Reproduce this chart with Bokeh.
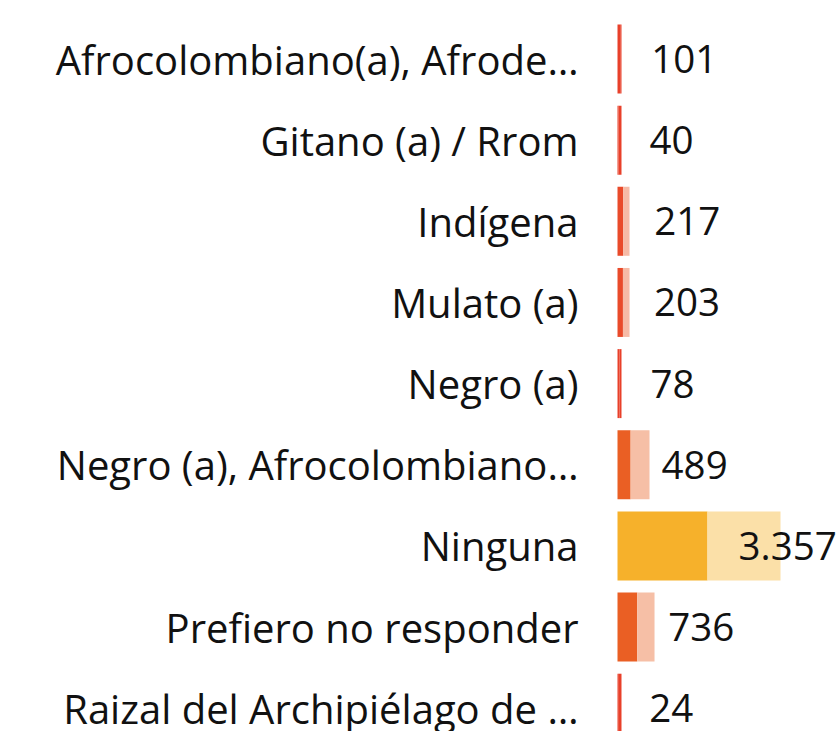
from bokeh.plotting import figure
from bokeh.models import ColumnDataSource, Range1d
from bokeh.core.properties import value
from bokeh.embed import file_html
from bokeh.resources import INLINE

categorias = [
    "Afrocolombiano(a), Afrode…",
    "Gitano (a) / Rrom",
    "Indígena",
    "Mulato (a)",
    "Negro (a)",
    "Negro (a), Afrocolombiano…",
    "Ninguna",
    "Prefiero no responder",
    "Raizal del Archipiélago de …",
]
valores = [101, 40, 217, 203, 78, 489, 3357, 736, 24]
etiquetas = ["101", "40", "217", "203", "78", "489", "3.357", "736", "24"]
complemento = [48, 109, 231, 246, 71, 705, 2723, 645, 125]
color_principal = ["#E8402A", "#E8402A", "#E94A2A", "#E94A2A", "#E8402A",
                   "#EA5F24", "#F6B12B", "#EA5F24", "#E8402A"]
color_complemento = ["#E8402A", "#E8402A", "#F6BAA6", "#F6BAA6", "#E8402A",
                     "#F6BFA6", "#FBE0A8", "#F6BFA6", "#E8402A"]

posicion = list(range(len(categorias)))
total = [v + c for v, c in zip(valores, complemento)]

src = ColumnDataSource(dict(
    y=posicion, cat=categorias, valor=valores, total=total, etiqueta=etiquetas,
    c1=color_principal, c2=color_complemento,
))

W, H = 838, 731
px_per_unit = 90 / 3357
zero_px = 617
x_start = -zero_px / px_per_unit
x_end = (W - zero_px) / px_per_unit
row_px = 81.15
top = -58.5 / row_px
bottom = top + H / row_px

p = figure(width=W, height=H, output_backend="svg", toolbar_location=None,
           x_range=Range1d(x_start, x_end), y_range=Range1d(bottom, top),
           min_border=0)
p.axis.visible = False
p.grid.visible = False
p.outline_line_color = None
p.background_fill_color = "white"

p.hbar(y="y", left=0, right="valor", height=0.85, fill_color="c1",
       line_color=None, source=src)
p.hbar(y="y", left="valor", right="total", height=0.85, fill_color="c2",
       line_color=None, source=src)

p.text(x=0, y="y", text="cat", x_offset=-39, text_align="right",
       text_baseline="middle", text_font=value("Open Sans"),
       text_font_size="40px", text_color="#111111", source=src)
p.text(x="valor", y="y", text="etiqueta", x_offset=31, text_align="left",
       text_baseline="middle", text_font=value("Open Sans"),
       text_font_size="38.5px", text_color="#111111", source=src)

open("out.html", "w").write(file_html(p, INLINE))
